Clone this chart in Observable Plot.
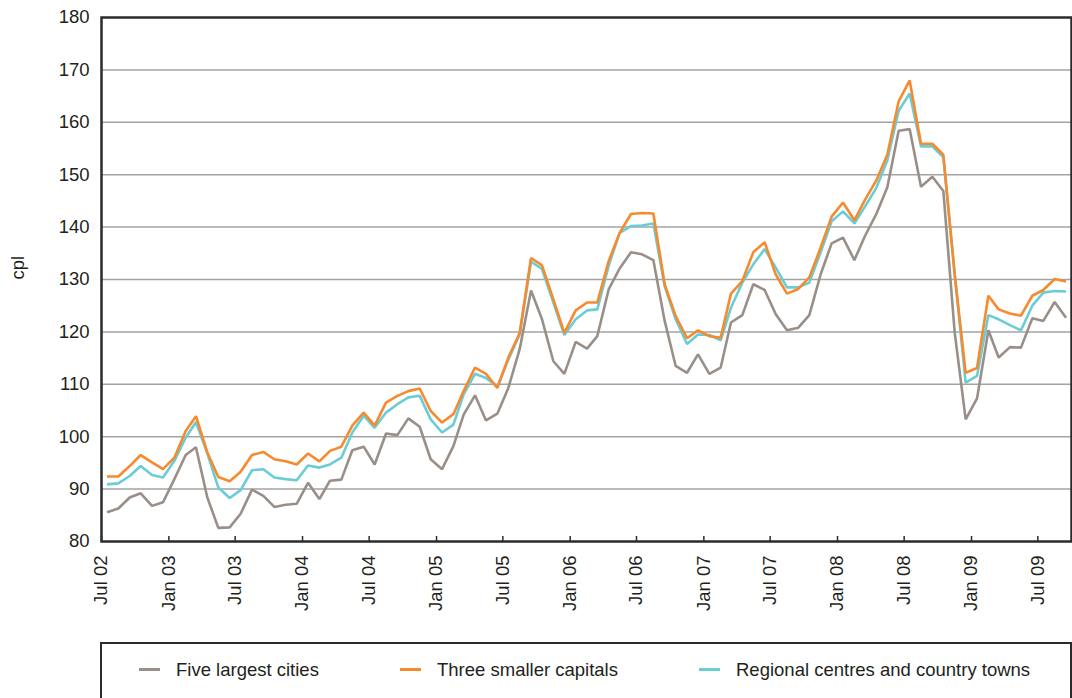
<!DOCTYPE html>
<html>
<head>
<meta charset="utf-8">
<script src="https://cdn.jsdelivr.net/npm/d3@7"></script>
<script src="https://cdn.jsdelivr.net/npm/@observablehq/plot@0.6"></script>
<style>
  html, body { margin: 0; padding: 0; background: #fff; }
  body { font-family: "Liberation Sans", Arial, sans-serif; color: #231f20; }
  #wrap { position: relative; width: 1072px; height: 698px; overflow: hidden; }
  #chart svg { display: block; }
  #legend { position: absolute; left: 100px; top: 642px; width: 972px; height: 90px;
            border: 2px solid #2b2b2b; box-sizing: border-box; }
  .sw { position: absolute; top: 24px; width: 21px; height: 3px; }
  .lt { position: absolute; top: 16px; font-size: 18.5px; line-height: 20px; white-space: nowrap; color: #231f20; }
</style>
</head>
<body>
<div id="wrap">
  <div id="chart"></div>
  <div id="legend"></div>
</div>
<script>
// ---- Data (cents per litre), monthly Jul 2002 – Sep 2009 ----
const seriesNames = ["Five largest cities", "Three smaller capitals", "Regional centres and country towns"];
const seriesColors = ["#9a8f88", "#f68a2e", "#6acdd5"];

const fiveLargestCities = [
  85.6, 86.3, 88.4, 89.2, 86.8, 87.5, 91.9, 96.5, 98.0, 88.4, 82.6, 82.7,
  85.3, 89.9, 88.7, 86.6, 87.0, 87.2, 91.2, 88.1, 91.6, 91.8, 97.4, 98.1,
  94.7, 100.6, 100.3, 103.5, 101.9, 95.7, 93.8, 98.2, 104.2, 107.9, 103.1, 104.4,
  109.3, 116.7, 127.9, 122.4, 114.4, 112.0, 118.1, 116.8, 119.2, 128.1, 132.1, 135.2,
  134.8, 133.7, 122.1, 113.5, 112.2, 115.7, 112.0, 113.2, 121.8, 123.2, 129.1, 128.0,
  123.4, 120.3, 120.8, 123.2, 131.0, 136.9, 138.0, 133.7, 138.3, 142.5, 147.6, 158.4,
  158.7, 147.7, 149.6, 146.9, 119.9, 103.3, 107.3, 120.3, 115.1, 117.1, 117.0, 122.6,
  122.1, 125.7, 122.7
];
const threeSmallerCapitals = [
  92.4, 92.4, 94.4, 96.5, 95.1, 93.8, 96.0, 101.1, 103.9, 97.0, 92.3, 91.5,
  93.3, 96.5, 97.1, 95.7, 95.3, 94.7, 96.8, 95.3, 97.3, 98.1, 102.1, 104.6,
  102.1, 106.5, 107.8, 108.7, 109.2, 104.9, 102.7, 104.3, 108.7, 113.2, 112.0, 109.3,
  115.1, 119.8, 134.1, 132.7, 126.2, 119.8, 124.1, 125.6, 125.6, 133.5, 138.9, 142.5,
  142.7, 142.6, 129.1, 123.0, 118.8, 120.3, 119.2, 118.9, 127.3, 129.7, 135.2, 137.1,
  131.0, 127.3, 128.2, 130.4, 136.1, 142.0, 144.7, 141.3, 145.2, 148.9, 153.8, 164.0,
  168.0, 155.9, 155.9, 153.8, 131.0, 112.2, 113.1, 126.9, 124.3, 123.5, 123.1, 126.9,
  128.0, 130.1, 129.6
];
const regionalCentres = [
  90.9, 91.1, 92.5, 94.4, 92.7, 92.2, 95.4, 99.8, 102.8, 96.8, 90.3, 88.3,
  89.8, 93.6, 93.8, 92.2, 91.9, 91.7, 94.5, 94.1, 94.7, 96.0, 100.8, 104.0,
  101.7, 104.6, 106.2, 107.5, 107.8, 103.3, 100.8, 102.3, 108.1, 112.0, 111.2, 109.6,
  114.7, 119.5, 133.4, 132.0, 125.6, 119.4, 122.4, 124.1, 124.3, 132.6, 138.9, 140.2,
  140.3, 140.7, 128.7, 122.4, 117.7, 119.5, 119.4, 118.4, 124.6, 129.4, 132.9, 135.8,
  132.3, 128.5, 128.5, 129.4, 135.2, 141.1, 143.0, 140.7, 143.9, 147.5, 152.7, 162.2,
  165.5, 155.4, 155.4, 153.3, 131.0, 110.3, 111.6, 123.2, 122.4, 121.3, 120.3, 125.0,
  127.5, 127.8, 127.7
];

// Month dates (plotted mid-month, categories span whole months)
const months = fiveLargestCities.map((_, i) => new Date(Date.UTC(2002, 6 + i, 16)));
const xDomain = [new Date(Date.UTC(2002, 6, 1)), new Date(Date.UTC(2009, 9, 1))];
const xTicks = d3.utcMonth.every(6).range(xDomain[0], new Date(Date.UTC(2009, 9, 2)));
const yTicks = d3.range(80, 181, 10);
const gridTicks = d3.range(90, 171, 10);
const yLabel = "cpl";

// Long table; draw order: grey, cyan, orange (orange on top)
const seriesValues = [fiveLargestCities, threeSmallerCapitals, regionalCentres];
const drawOrder = [0, 2, 1];
const table = drawOrder.flatMap(s => seriesValues[s].map((v, i) => ({date: months[i], value: v, series: seriesNames[s]})));

const chart = Plot.plot({
  width: 1072,
  height: 630,
  marginLeft: 101,
  marginRight: 1,
  marginTop: 17,
  marginBottom: 89,
  style: {fontFamily: '"Liberation Sans", Arial, sans-serif', fontSize: "18.5px", color: "#231f20", background: "#fff"},
  x: {type: "utc", domain: xDomain},
  y: {domain: [80, 180]},
  color: {domain: seriesNames, range: seriesColors},
  marks: [
    Plot.gridY(gridTicks, {stroke: "#a3a3a3", strokeOpacity: 1, strokeWidth: 1.5}),
    Plot.ruleX(xTicks, {x: d => d, insetTop: 519, stroke: "#2b2b2b", strokeWidth: 1.5}),
    Plot.line(table, {x: "date", y: "value", z: "series", stroke: "series", strokeWidth: 2.6, strokeLinejoin: "miter", strokeLinecap: "butt"}),
    Plot.frame({stroke: "#2b2b2b", strokeWidth: 2.5}),
    Plot.axisY(yTicks, {tickSize: 0, tickPadding: 12, label: null, fontSize: 18.5}),
    Plot.axisX(xTicks, {tickSize: 0, tickPadding: 14, tickRotate: -90, tickFormat: d3.utcFormat("%b %y"), label: null, fontSize: 18.5}),
    Plot.text([yLabel], {frameAnchor: "left", dx: -83, rotate: -90, fontSize: 18.5, fill: "#231f20"})
  ]
});
document.getElementById("chart").appendChild(chart);

// Legend (HTML, below the SVG)
const legendOffsets = [37, 298, 597];
const legend = document.getElementById("legend");
seriesNames.forEach((name, i) => {
  const sw = document.createElement("div");
  sw.className = "sw";
  sw.style.left = legendOffsets[i] + "px";
  sw.style.background = seriesColors[i];
  legend.appendChild(sw);
  const t = document.createElement("div");
  t.className = "lt";
  t.style.left = (legendOffsets[i] + 37) + "px";
  t.textContent = name;
  legend.appendChild(t);
});
</script>
</body>
</html>
